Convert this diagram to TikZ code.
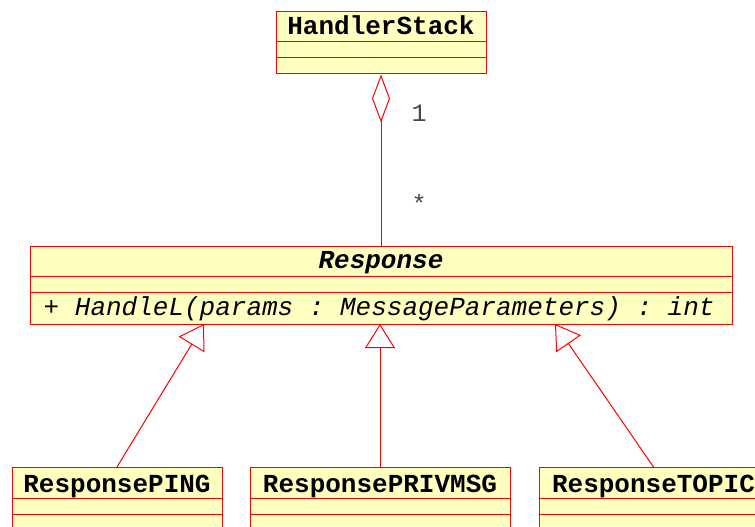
\documentclass[tikz,border=0pt]{standalone}
\usepackage{fontspec}
\setmonofont{Liberation Mono}
\usetikzlibrary{arrows.meta,calc}
\definecolor{clsfill}{RGB}{255,255,192}
\definecolor{clsline}{RGB}{255,0,0}
\definecolor{lblgrey}{RGB}{70,70,70}
\tikzset{
  cls/.style={draw=clsline, fill=clsfill, line width=1pt, inner sep=0pt, rectangle},
  cmpline/.style={draw=clsline, line width=1pt},
  clsname/.style={font=\fontsize{26}{26}\selectfont\ttfamily\bfseries, anchor=base, inner sep=0pt},
  absname/.style={font=\fontsize{26}{26}\selectfont\ttfamily\bfseries\itshape, anchor=base, inner sep=0pt},
  oper/.style={font=\fontsize{26}{26}\selectfont\ttfamily\itshape, anchor=base west, inner sep=0pt},
  mult/.style={font=\fontsize{25}{25}\selectfont\ttfamily, text=lblgrey, anchor=center, inner sep=0pt},
  assoc/.style={draw=clsline, line width=1pt, {Diamond[open, fill=white, length=48pt, width=18pt]}-},
  gen/.style={draw=clsline, line width=1pt, -{Triangle[open, fill=white, length=24pt, width=30pt]}},
}
\begin{document}
\begin{tikzpicture}[x=1pt,y=1pt]
\useasboundingbox (0,0) rectangle (755,-527);
\clip (0,0) rectangle (755,-527);

% HandlerStack
\node[cls, minimum width=210, minimum height=62] (hs) at (381,-43) {};
\draw[cmpline] ($(hs.north west)+(0,-30)$) -- ($(hs.north east)+(0,-30)$);
\draw[cmpline] ($(hs.north west)+(0,-46)$) -- ($(hs.north east)+(0,-46)$);
\node[clsname] (hsname) at ($(hs.north)+(0,-23)$) {HandlerStack};

% Response
\node[cls, minimum width=702, minimum height=78] (resp) at (381,-285) {};
\draw[cmpline] ($(resp.north west)+(0,-31)$) -- ($(resp.north east)+(0,-31)$);
\draw[cmpline] ($(resp.north west)+(0,-47)$) -- ($(resp.north east)+(0,-47)$);
\node[absname] (respname) at ($(resp.north)+(0,-23)$) {Response};
\node[oper] (respop) at ($(resp.north west)+(14,-70)$) {+ HandleL(params : MessageParameters) : int};

% Subclasses
\node[cls, minimum width=210, minimum height=93] (ping) at (117,-514) {};
\draw[cmpline] ($(ping.north west)+(0,-31)$) -- ($(ping.north east)+(0,-31)$);
\draw[cmpline] ($(ping.north west)+(0,-47)$) -- ($(ping.north east)+(0,-47)$);
\node[clsname] (pingname) at ($(ping.north)+(0,-25)$) {ResponsePING};

\node[cls, minimum width=260, minimum height=93] (priv) at (380,-514) {};
\draw[cmpline] ($(priv.north west)+(0,-31)$) -- ($(priv.north east)+(0,-31)$);
\draw[cmpline] ($(priv.north west)+(0,-47)$) -- ($(priv.north east)+(0,-47)$);
\node[clsname] (privname) at ($(priv.north)+(0,-25)$) {ResponsePRIVMSG};

\node[cls, minimum width=229, minimum height=93] (topic) at (653.5,-514) {};
\draw[cmpline] ($(topic.north west)+(0,-31)$) -- ($(topic.north east)+(0,-31)$);
\draw[cmpline] ($(topic.north west)+(0,-47)$) -- ($(topic.north east)+(0,-47)$);
\node[clsname] (topicname) at ($(topic.north)+(0,-25)$) {ResponseTOPIC};

% Aggregation
\draw[assoc] (hs.south) -- (resp.north);
\node[mult] (m1) at (419,-113) {1};
\node[mult] (m2) at (419,-203) {*};

% Generalizations
\coordinate (g1) at (204,-324);
\coordinate (g2) at (380,-324);
\coordinate (g3) at (555,-324);
\draw[gen] (ping.north) -- (g1);
\draw[gen] (priv.north) -- (g2);
\draw[gen] (topic.north) -- (g3);
\end{tikzpicture}
\end{document}
